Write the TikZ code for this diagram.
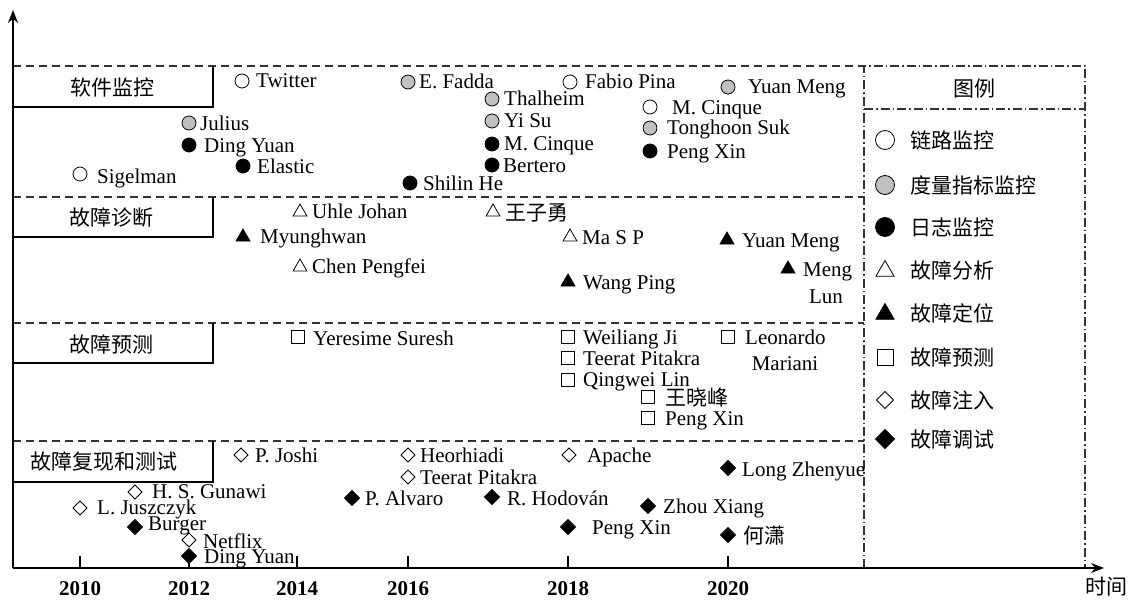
\documentclass[tikz,border=0pt]{standalone}
\usepackage{fontspec}
\setmainfont{Liberation Serif}
\newfontfamily\cjk{Noto Sans CJK SC}
\usetikzlibrary{arrows.meta,shapes.geometric}
\definecolor{mgray}{RGB}{192,192,192}
\newcommand{\ent}[7]{%
  \node[#2] (#1m) at (#3,#4) {};
  \node[lbl] (#1t) at (#5,#6) {#7};}
\begin{document}
\begin{tikzpicture}[x=1pt,y=-1pt,
  txt/.style={inner sep=0pt,font=\fontsize{21pt}{25pt}\selectfont},
  lbl/.style={txt,anchor=base west},
  lblc/.style={txt,anchor=base},
  cat/.style={txt,font=\fontsize{21pt}{25pt}\selectfont\cjk},
  yr/.style={txt,anchor=base,font=\fontsize{21pt}{25pt}\selectfont\bfseries},
  mk/.style={draw,line width=0.8pt,inner sep=0pt,outer sep=0pt},
  oc/.style={mk,circle,minimum size=14pt,fill=white},
  gc/.style={mk,circle,minimum size=14pt,fill=mgray},
  bc/.style={mk,circle,minimum size=14pt,fill=black},
  ot/.style={mk,regular polygon,regular polygon sides=3,minimum size=16pt,fill=white},
  bt/.style={mk,regular polygon,regular polygon sides=3,minimum size=16pt,fill=black},
  os/.style={mk,rectangle,minimum size=13pt,fill=white},
  od/.style={mk,diamond,minimum size=14pt,fill=white},
  fd/.style={mk,diamond,minimum size=15pt,fill=black},
  Loc/.style={oc,minimum size=19pt},
  Lgc/.style={gc,minimum size=19pt},
  Lbc/.style={bc,minimum size=19pt},
  Lot/.style={ot,minimum size=21pt},
  Lbt/.style={bt,minimum size=21pt},
  Los/.style={os,minimum size=16pt},
  Lod/.style={od,minimum size=17pt},
  Lfd/.style={fd,minimum size=19pt},
  sep/.style={line width=1.1pt,dash pattern=on 8pt off 5pt,color=black!80},
  dd/.style={line width=1.1pt,dash pattern=on 9pt off 3pt on 1.5pt off 3pt,color=black!80},
  box/.style={line width=1.2pt},
  axis/.style={line width=1.5pt,-{Stealth[length=13pt,width=10pt]}},
  tick/.style={line width=1.3pt}]
\useasboundingbox (0,0) rectangle (1131,599);

% separators
\draw[sep] (13,66) -- (864,66);
\draw[sep] (13,197) -- (864,197);
\draw[sep] (13,323) -- (864,323);
\draw[sep] (13,441) -- (864,441);

% category boxes
\draw[box] (13,107) -- (213,107) -- (213,66);
\draw[box] (13,237) -- (213,237) -- (213,197);
\draw[box] (13,363) -- (213,363) -- (213,323);
\draw[box] (13,482) -- (213,482) -- (213,441);
\node[cat] (c1) at (112,88) {软件监控};
\node[cat] (c2) at (111,218) {故障诊断};
\node[cat] (c3) at (111,344) {故障预测};
\node[cat] (c4) at (104,462) {故障复现和测试};

% legend frame
\draw[dd] (864,568) -- (864,66) -- (1085,66) -- (1085,568);
\draw[dd] (864,109) -- (1085,109);
\node[cat] (lgt) at (974,89) {图例};

% axes
\coordinate (O) at (13,568);
\coordinate (Ytop) at (13,10);
\coordinate (Xend) at (1104,568);
\draw[axis] (O) -- (Ytop);
\draw[axis] (O) -- (Xend);
\foreach \x in {80,189,297,408,568,728} \draw[tick] (\x,568) -- (\x,556);
\node[yr] (y2010) at (80,595) {2010};
\node[yr] (y2012) at (189,595) {2012};
\node[yr] (y2014) at (297,595) {2014};
\node[yr] (y2016) at (408,595) {2016};
\node[yr] (y2018) at (568,595) {2018};
\node[yr] (y2020) at (728,595) {2020};
\node[cat,anchor=base] (tlab) at (1106,594) {时间};

% software monitoring
\ent{tw}{oc}{242}{81}{256}{88}{Twitter}
\ent{fad}{gc}{408}{82}{419}{89}{E. Fadda}
\ent{fab}{oc}{570}{82}{585}{89}{Fabio Pina}
\ent{ymg}{gc}{728}{87}{748}{94}{Yuan Meng}
\ent{thal}{gc}{492}{99}{504}{106}{Thalheim}
\ent{yisu}{gc}{492}{121}{504}{128}{Yi Su}
\ent{mca}{bc}{492}{144}{504}{150}{M. Cinque}
\ent{bert}{bc}{492}{165}{503}{172}{Bertero}
\ent{shil}{bc}{410}{183}{423}{190}{Shilin He}
\ent{mcb}{oc}{650}{107}{672}{114}{M. Cinque}
\ent{tong}{gc}{650}{128}{667}{135}{Tonghoon Suk}
\ent{pxa}{bc}{650}{151}{667}{158}{Peng Xin}
\ent{jul}{gc}{189}{123}{200}{130}{Julius}
\ent{dya}{bc}{189}{145}{204}{152}{Ding Yuan}
\ent{elas}{bc}{243}{166}{257}{173}{Elastic}
\ent{sig}{oc}{80}{174}{97}{183}{Sigelman}

% fault diagnosis
\ent{uhle}{ot}{300}{212}{312}{218}{Uhle Johan}
\ent{myun}{bt}{243}{237}{260}{243}{Myunghwan}
\ent{chen}{ot}{300}{267}{312}{273}{Chen Pengfei}
\ent{wzy}{ot}{493}{212}{505}{220}{\cjk 王子勇}
\ent{masp}{ot}{570}{237}{582}{244}{Ma S P}
\ent{wang}{bt}{568}{282}{583}{289}{Wang Ping}
\ent{ymb}{bt}{727}{240}{742}{247}{Yuan Meng}
\ent{ml}{bt}{788}{269}{803}{276}{Meng}
\node[lblc] (mlb) at (826,303) {Lun};

% fault prediction
\ent{yer}{os}{298}{337}{313}{345}{Yeresime Suresh}
\ent{wlj}{os}{568}{337}{583}{344}{Weiliang Ji}
\ent{tpa}{os}{568}{358}{583}{365}{Teerat Pitakra}
\ent{qwl}{os}{568}{380}{583}{386}{Qingwei Lin}
\ent{wxf}{os}{648}{397}{665}{405}{\cjk 王晓峰}
\ent{pxb}{os}{648}{418}{665}{425}{Peng Xin}
\ent{leo}{os}{728}{337}{745}{344}{Leonardo}
\node[lblc] (leob) at (785,370) {Mariani};

% fault reproduction and testing
\ent{josh}{od}{241}{455}{255}{462}{P. Joshi}
\ent{heor}{od}{408}{455}{420}{462}{Heorhiadi}
\ent{tpb}{od}{408}{477}{420}{484}{Teerat Pitakra}
\ent{alv}{fd}{352}{498}{365}{505}{P. Alvaro}
\ent{guna}{od}{135}{492}{152}{498}{H. S. Gunawi}
\ent{jus}{od}{80}{508}{97}{514}{L. Juszczyk}
\ent{burg}{fd}{135}{527}{148}{530}{Burger}
\ent{netf}{od}{189}{540}{203}{548}{Netflix}
\ent{dyb}{fd}{189}{556}{204}{563}{Ding Yuan}
\ent{hodo}{fd}{492}{497}{507}{505}{R. Hodován}
\ent{apa}{od}{569}{455}{587}{462}{Apache}
\ent{pxc}{fd}{568}{527}{592}{534}{Peng Xin}
\ent{zhou}{fd}{648}{506}{663}{513}{Zhou Xiang}
\ent{long}{fd}{728}{468}{742}{476}{Long Zhenyue}
\ent{hex}{fd}{728}{535}{743}{543}{\cjk 何潇}

% legend entries
\ent{la}{Loc}{885}{140}{910}{148}{\cjk 链路监控}
\ent{lb}{Lgc}{885}{185}{910}{193}{\cjk 度量指标监控}
\ent{lc}{Lbc}{885}{227}{910}{235}{\cjk 日志监控}
\ent{ld}{Lot}{885}{271}{910}{278}{\cjk 故障分析}
\ent{le}{Lbt}{885}{314}{910}{321}{\cjk 故障定位}
\ent{lf}{Los}{885}{357}{910}{365}{\cjk 故障预测}
\ent{lg}{Lod}{885}{400}{910}{408}{\cjk 故障注入}
\ent{lh}{Lfd}{885}{439}{910}{447}{\cjk 故障调试}
\end{tikzpicture}
\end{document}
